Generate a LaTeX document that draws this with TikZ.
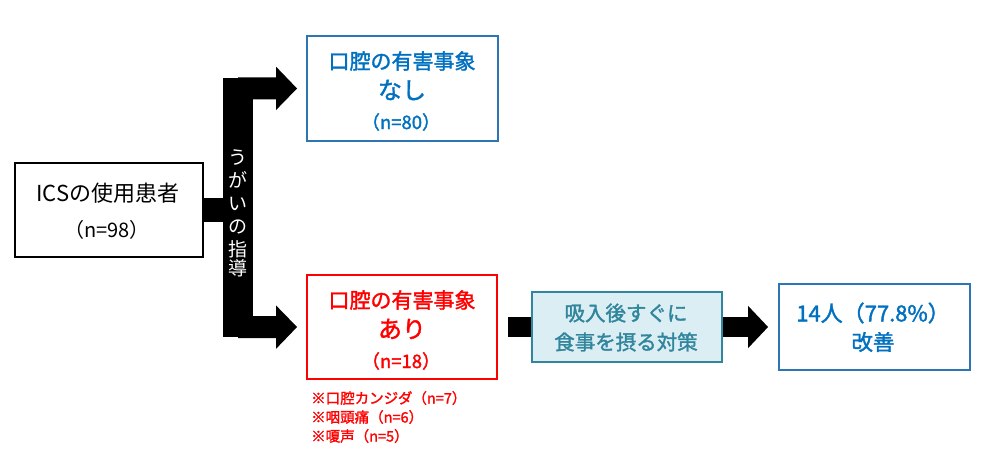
\documentclass[tikz,border=0pt]{standalone}
\usepackage{fontspec}
\setmainfont{Noto Sans CJK JP}
\newfontfamily\mfont[FakeBold=1.6]{Noto Sans CJK JP}
\usetikzlibrary{arrows.meta,backgrounds}
\definecolor{tblue}{HTML}{0070C0}
\definecolor{bblue}{HTML}{2E75B6}
\definecolor{tred}{HTML}{FF0000}
\definecolor{tealx}{HTML}{31859C}
\definecolor{lbfill}{HTML}{DAEEF3}
\newcommand{\fsz}[1]{\fontsize{#1}{#1}\selectfont}
\begin{document}
\begin{tikzpicture}[x=1pt,y=-1pt,
  boxs/.style={draw, line width=1.8pt, fill=white, inner sep=0pt},
  fat/.style={line width=#1, draw=black},
  head/.style={-{Triangle[length=21pt,width=42pt]}},
  lbl/.style={inner sep=0pt, anchor=center}]
\useasboundingbox (0,0) rectangle (1000,460);

% boxes
\node[boxs, draw=black, minimum width=188pt, minimum height=94pt] (ics) at (109,210) {};
\node[boxs, draw=bblue, minimum width=191pt, minimum height=105pt] (blue) at (402.5,88.5) {};
\node[boxs, draw=tred, minimum width=190pt, minimum height=104pt] (red) at (402,327) {};
\node[boxs, draw=tealx, fill=lbfill, minimum width=190pt, minimum height=70pt] (lb) at (627,327) {};
\node[boxs, draw=bblue, minimum width=191pt, minimum height=86pt] (fin) at (874.5,327) {};

% connectors
\begin{scope}[on background layer]
\node[fill=black, inner sep=0pt, minimum width=30pt, minimum height=259pt] (bar) at (238,207.5) {};
\draw[fat=24pt] (ics.east) -- (ics.east -| bar.west);
\draw[fat=22pt, head] ([yshift=-10.5pt]bar.north) -- ([xshift=-9pt]blue.west);
\draw[fat=22pt, head] ([yshift=10pt]bar.south) -- ([xshift=-9pt]red.west);
\draw[fat=20pt] ([xshift=10pt]red.east) -- (lb.west);
\draw[fat=20pt, -{Triangle[length=20pt,width=41pt]}] (lb.east) -- ([xshift=-10pt]fin.west);
\end{scope}

\node[lbl, text=white, align=center, font=\fsz{19}, text width=30pt] (guide) at (238,213) {%
\baselineskip=23pt う\\が\\い\\の\\指\\導};

% texts
\node[lbl, font=\fsz{22}] (ics1) at (108,193) {ICSの使用患者};
\node[lbl, font=\fsz{20}] (ics2) at (107,230) {（n=98）};

\node[lbl, text=tblue, font=\mfont\fsz{21}] (b1) at (402,61) {口腔の有害事象};
\node[lbl, text=tblue, font=\mfont\fsz{24}] (b2) at (402,90) {なし};
\node[lbl, text=tblue, font=\mfont\fsz{18.5}] (b3) at (401,122) {（n=80）};

\node[lbl, text=tred, font=\mfont\fsz{21}] (r1) at (402,300) {口腔の有害事象};
\node[lbl, text=tred, font=\mfont\fsz{24}] (r2) at (402,329) {あり};
\node[lbl, text=tred, font=\mfont\fsz{18.5}] (r3) at (401,361) {（n=18）};

\node[lbl, anchor=west, text=tred, font=\mfont\fsz{14.5}] (n1) at (311,398) {※口腔カンジダ（n=7）};
\node[lbl, anchor=west, text=tred, font=\mfont\fsz{14.5}] (n2) at (311,417) {※咽頭痛（n=6）};
\node[lbl, anchor=west, text=tred, font=\mfont\fsz{14.5}] (n3) at (311,436) {※嗄声（n=5）};

\node[lbl, text=tealx, font=\mfont\fsz{20.5}] (l1) at (626,313) {吸入後すぐに};
\node[lbl, text=tealx, font=\mfont\fsz{20.5}] (l2) at (626,342) {食事を摂る対策};

\node[lbl, text=tblue, font=\mfont\fsz{22}] (f1) at (873,313) {14人（77.8\%）};
\node[lbl, text=tblue, font=\mfont\fsz{21.5}] (f2) at (873,342) {改善};
\end{tikzpicture}
\end{document}
